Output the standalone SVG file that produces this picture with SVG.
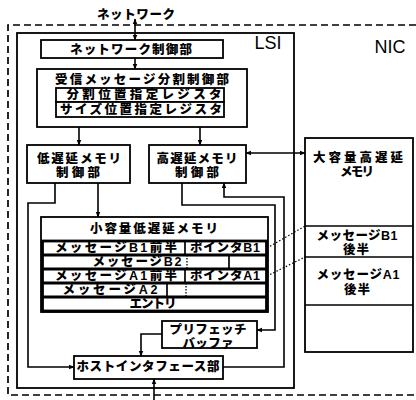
<svg xmlns="http://www.w3.org/2000/svg" width="416" height="400" viewBox="0 0 416 400" lang="ja">
<style>
.t{font-family:"Liberation Sans","Noto Sans CJK JP",sans-serif;font-weight:900;font-size:12.5px;text-anchor:middle;dominant-baseline:central;fill:#000}
.l{font-family:"Liberation Sans",Arial,sans-serif;font-size:18px;text-anchor:middle;dominant-baseline:central;fill:#000}
.b{fill:#fff;stroke:#000;stroke-width:1.8}
.k{fill:none;stroke:#000;stroke-width:2.8}
.c{fill:none;stroke:#000;stroke-width:1.6}
.d{fill:none;stroke:#000;stroke-width:1.2;stroke-dasharray:1.5 2}
.cell{stroke:#000;stroke-width:1.7}
.cd{stroke:#000;stroke-width:1.3;stroke-dasharray:1.5 1.5}
</style>
<defs>
<marker id="a" viewBox="0 0 10 10" refX="9" refY="5" markerWidth="6" markerHeight="6" orient="auto-start-reverse" markerUnits="userSpaceOnUse">
<path d="M0,1 L10,5 L0,9 z" fill="#000"/>
</marker>
</defs>
<rect width="416" height="400" fill="#fff"/>

<g id="nic">
<path d="M416,25 H8 V395 H416" fill="none" stroke="#000" stroke-width="1.7" stroke-dasharray="7 4"/>
<text class="l" x="390" y="47">NIC</text>
</g>

<g id="lsi">
<rect x="17" y="33" width="277" height="355" fill="none" stroke="#000" stroke-width="1.8"/>
<text class="l" x="268" y="43">LSI</text>
</g>

<text class="t" x="136" y="15" textLength="78">ネットワーク</text>

<g id="net-ctrl">
<rect class="b" x="41" y="40" width="182" height="18"/>
<text class="t" x="131" y="50" textLength="122">ネットワーク制御部</text>
</g>

<g id="recv-ctrl">
<rect class="b" x="37" y="69" width="210" height="58"/>
<text class="t" x="142" y="80" textLength="174">受信メッセージ分割制御部</text>
<rect class="b" x="56" y="88" width="168" height="14" stroke-width="2.2"/>
<text class="t" x="144" y="95" textLength="155">分割位置指定レジスタ</text>
<rect class="b" x="56" y="102" width="168" height="15" stroke-width="2.2"/>
<text class="t" x="141" y="110" textLength="162">サイズ位置指定レジスタ</text>
</g>

<g id="low-ctrl">
<rect class="b" x="27" y="145" width="103" height="38"/>
<text class="t"><tspan x="79" y="159" textLength="84">低遅延メモリ</tspan><tspan x="78" y="173" textLength="44">制御部</tspan></text>
</g>

<g id="high-ctrl">
<rect class="b" x="149" y="145" width="97" height="38"/>
<text class="t"><tspan x="197" y="159" textLength="81">高遅延メモリ</tspan><tspan x="197" y="173" textLength="44">制御部</tspan></text>
</g>

<g id="large-mem">
<rect class="b" x="305" y="138" width="108" height="214"/>
<line class="cell" x1="305" y1="226" x2="413" y2="226"/>
<line class="cell" x1="305" y1="257" x2="413" y2="257"/>
<line class="cell" x1="305" y1="305" x2="413" y2="305"/>
<text class="t"><tspan x="358" y="158" textLength="90">大容量高遅延</tspan><tspan x="357" y="172" textLength="34">メモリ</tspan></text>
<text class="t"><tspan x="357" y="236" textLength="81">メッセージB1</tspan><tspan x="356" y="250" textLength="26">後半</tspan></text>
<text class="t"><tspan x="358" y="275" textLength="83">メッセージA1</tspan><tspan x="357" y="290" textLength="26">後半</tspan></text>
</g>

<g id="small-mem">
<rect class="b" x="41" y="217" width="227" height="95"/>
<text class="t" x="154" y="229" textLength="128">小容量低遅延メモリ</text>
<rect class="k" x="42.5" y="241" width="224" height="70" stroke-width="3.2"/>
<line class="k" x1="42" y1="255" x2="266" y2="255"/>
<line class="k" x1="42" y1="269" x2="266" y2="269"/>
<line class="k" x1="42" y1="283" x2="266" y2="283"/>
<line class="k" x1="42" y1="297" x2="266" y2="297"/>
<line class="cell" x1="185" y1="241" x2="185" y2="255"/>
<line class="cd" x1="187" y1="255" x2="187" y2="269"/>
<line class="cell" x1="229" y1="255" x2="229" y2="269"/>
<line class="cell" x1="185" y1="269" x2="185" y2="283"/>
<line class="cell" x1="167" y1="283" x2="167" y2="297"/>
<line class="cd" x1="186" y1="283" x2="186" y2="297"/>
<text class="t" x="116" y="248" textLength="122">メッセージB1前半</text>
<text class="t" x="225" y="248" textLength="70">ポインタB1</text>
<text class="t" x="137" y="262" textLength="89">メッセージB2</text>
<text class="t" x="116" y="276" textLength="122">メッセージA1前半</text>
<text class="t" x="225" y="276" textLength="70">ポインタA1</text>
<text class="t" x="110" y="290" textLength="95">メッセージA2</text>
<text class="t" x="153" y="304" textLength="47">エントリ</text>
</g>

<g id="prefetch">
<rect class="b" x="162" y="321" width="95" height="27"/>
<text class="t"><tspan x="208" y="330" textLength="77">プリフェッチ</tspan><tspan x="208" y="344" textLength="51">バッファ</tspan></text>
</g>

<g id="host-if">
<rect class="b" x="74" y="356" width="149" height="23"/>
<text class="t" x="148" y="367" textLength="143">ホストインタフェース部</text>
</g>

<g id="connectors">
<line class="c" x1="135" y1="19" x2="135" y2="40" marker-start="url(#a)" marker-end="url(#a)"/>
<line class="c" x1="135" y1="58" x2="135" y2="69" marker-end="url(#a)"/>
<line class="c" x1="79" y1="127" x2="79" y2="145" marker-end="url(#a)"/>
<line class="c" x1="200" y1="127" x2="200" y2="145" marker-end="url(#a)"/>
<line class="c" x1="246" y1="153" x2="305" y2="153" marker-start="url(#a)" marker-end="url(#a)"/>
<line class="c" x1="98" y1="183" x2="98" y2="217" marker-end="url(#a)"/>
<path class="c" d="M55,183 V203 H28 V367 H74" marker-end="url(#a)"/>
<path class="c" d="M182,183 V205 H275 V330 H257" marker-end="url(#a)"/>
<path class="c" d="M223,367 H284 V197 H224 V183" marker-end="url(#a)"/>
<path class="c" d="M162,334 H141 V356" marker-end="url(#a)"/>
<line class="c" x1="154" y1="400" x2="154" y2="379" marker-end="url(#a)"/>
<line class="d" x1="267" y1="248" x2="305" y2="226"/>
<line class="d" x1="267" y1="276" x2="305" y2="257"/>
</g>
</svg>
